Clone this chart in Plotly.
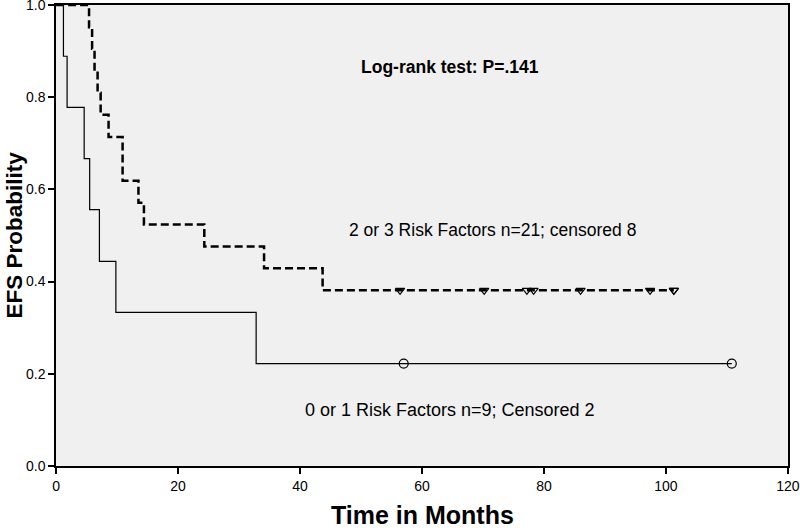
import plotly.graph_objects as go

# Group 1: 0 or 1 risk factors (n=9)
low_event_times = [1.2, 1.8, 4.6, 5.5, 7.1, 9.8, 32.8]
low_surv = [0.889, 0.778, 0.667, 0.556, 0.444, 0.333, 0.222]
low_censor_times = [57.0, 110.8]
low_censor_surv = [0.222, 0.222]

# Group 2: 2 or 3 risk factors (n=21)
high_event_times = [5.4, 5.9, 6.3, 6.8, 7.3, 8.6, 10.9, 13.5, 14.4, 24.3, 34.1, 43.7]
high_surv = [0.952, 0.905, 0.857, 0.810, 0.762, 0.714, 0.619, 0.571, 0.524, 0.476, 0.429, 0.381]
high_censor_times = [56.4, 70.2, 77.2, 78.3, 86.0, 97.4, 101.3, 101.3]
high_censor_surv = [0.381] * 8

x_ticks = [0, 20, 40, 60, 80, 100, 120]
y_ticks = [0.0, 0.2, 0.4, 0.6, 0.8, 1.0]

FONT = "Liberation Sans Narrow, Arial Narrow, Liberation Sans, Arial, sans-serif"
ANN_FONT = "Liberation Sans, Arial, sans-serif"

def km_path(times, surv, censor_times):
    xs = [0] + list(times)
    ys = [1.0] + list(surv)
    end = max(censor_times) if censor_times else times[-1]
    xs.append(end)
    ys.append(ys[-1])
    return xs, ys

fig = go.Figure()

lx, ly = km_path(low_event_times, low_surv, low_censor_times)
hx, hy = km_path(high_event_times, high_surv, high_censor_times)

fig.add_trace(go.Scatter(x=lx, y=ly, mode="lines", line=dict(shape="hv", color="black", width=1.2),
                         showlegend=False, hoverinfo="skip"))
fig.add_trace(go.Scatter(x=hx, y=hy, mode="lines", line=dict(shape="hv", color="black", width=2.5, dash="8px,4px"),
                         showlegend=False, hoverinfo="skip"))
fig.add_trace(go.Scatter(x=low_censor_times, y=low_censor_surv, mode="markers",
                         marker=dict(symbol="circle-open", size=9, color="black", line=dict(width=1.2)),
                         showlegend=False))
fig.add_trace(go.Scatter(x=high_censor_times, y=high_censor_surv, mode="markers",
                         marker=dict(symbol="triangle-down-open", size=8, color="black", line=dict(width=1.2)),
                         showlegend=False))

fig.add_annotation(x=64.6, y=0.866, text="<b>Log-rank test: P=.141</b>", showarrow=False,
                   font=dict(family=ANN_FONT, size=17.5, color="black"))
fig.add_annotation(x=71.5, y=0.512, text="2 or 3 Risk Factors n=21; censored 8", showarrow=False,
                   font=dict(family=ANN_FONT, size=17.5, color="black"))
fig.add_annotation(x=64.6, y=0.121, text="0 or 1 Risk Factors n=9; Censored 2", showarrow=False,
                   font=dict(family=ANN_FONT, size=18, color="black"))

# Axis titles placed as annotations in paper coordinates
fig.add_annotation(xref="paper", yref="paper", x=0.5, y=0.0, yshift=-49, text="<b>Time in Months</b>",
                   showarrow=False, xanchor="center", yanchor="middle",
                   font=dict(family=FONT, size=25, color="black"))
fig.add_annotation(xref="paper", yref="paper", x=0.0, y=0.5, xshift=-42, text="<b>EFS Probability</b>",
                   showarrow=False, textangle=-90, xanchor="center", yanchor="middle",
                   font=dict(family=FONT, size=22.5, color="black"))

axis_common = dict(showline=True, linecolor="black", linewidth=1.5, mirror=True, showgrid=False,
                   zeroline=False, ticks="outside", ticklen=6, tickcolor="black", tickwidth=1.5,
                   automargin=False, ticklabeloverflow="allow",
                   tickfont=dict(family=FONT, size=14, color="black"))

fig.update_xaxes(range=[-0.02, 120.02], tickvals=x_ticks, ticktext=[str(v) for v in x_ticks],
                 **axis_common)
fig.update_yaxes(range=[-0.0002, 1.0002], tickvals=y_ticks, ticktext=[f"{v:.1f}" for v in y_ticks],
                 **axis_common)

fig.update_layout(width=800, height=528, margin=dict(l=56, r=12, t=5, b=62),
                  plot_bgcolor="#f0f0f0", paper_bgcolor="white")

fig.write_html("out.html", config={"displayModeBar": False},
               post_script="document.body.style.margin='0';document.body.style.overflow='hidden';")
